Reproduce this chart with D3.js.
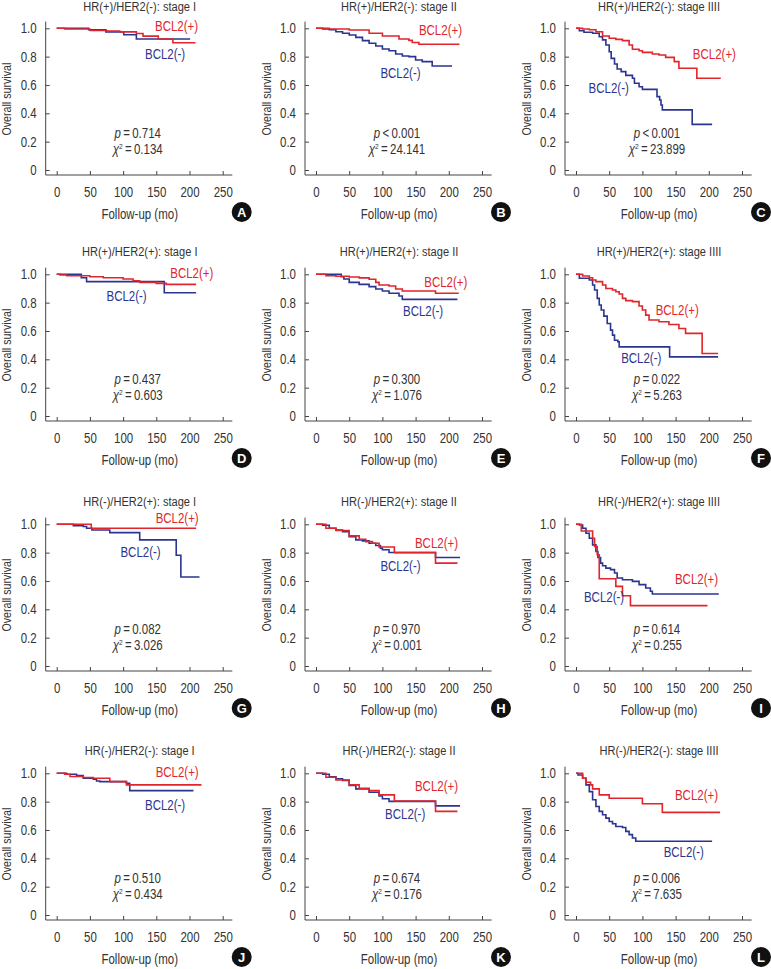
<!DOCTYPE html>
<html>
<head>
<meta charset="utf-8">
<script src="https://cdn.jsdelivr.net/npm/d3@7"></script>
<style>
  body { margin: 0; background: #fff; }
  text { font-family: "Liberation Sans", Arial, sans-serif; fill: #333; }
</style>
</head>
<body>
<svg id="chart" width="771" height="969"></svg>
<script>
// panel letters and headings
const letters = ['A','B','C','D','E','F','G','H','I','J','K','L'];
const titles = [
  'HR(+)/HER2(-): stage I', 'HR(+)/HER2(-): stage II', 'HR(+)/HER2(-): stage IIII',
  'HR(+)/HER2(+): stage I', 'HR(+)/HER2(+): stage II', 'HR(+)/HER2(+): stage IIII',
  'HR(-)/HER2(+): stage I', 'HR(-)/HER2(+): stage II', 'HR(-)/HER2(+): stage IIII',
  'HR(-)/HER2(-): stage I', 'HR(-)/HER2(-): stage II', 'HR(-)/HER2(-): stage IIII'
];
const pSign = ['=','<','<','=','=','=','=','=','=','=','=','='];
const pVals = ['0.714','0.001','0.001','0.437','0.300','0.022','0.082','0.970','0.614','0.510','0.674','0.006'];
const chiVals = ['0.134','24.141','23.899','0.603','1.076','5.263','3.026','0.001','0.255','0.434','0.176','7.635'];

const xTicks = [0, 50, 100, 150, 200, 250];
const yTicks = [0, 0.2, 0.4, 0.6, 0.8, 1.0];
const yTickLabels = ['0', '0.2', '0.4', '0.6', '0.8', '1.0'];

// Kaplan-Meier steps [month, survival], BCL2(+)
const survPos = [
  [[0,1],[12,0.995],[50,0.985],[75,0.98],[95,0.975],[120,0.963],[130,0.945],[153,0.925],[175,0.898],[209,0.898]],
  [[0,1],[20,0.995],[50,0.988],[80,0.965],[100,0.946],[125,0.925],[140,0.915],[145,0.9],[155,0.887],[216,0.887]],
  [[0,1],[10,0.995],[20,0.99],[30,0.976],[40,0.946],[50,0.93],[60,0.922],[70,0.913],[80,0.882],[85,0.852],[95,0.842],[100,0.83],[115,0.819],[125,0.812],[135,0.795],[148,0.765],[155,0.718],[182,0.647],[218,0.647]],
  [[0,1],[5,0.995],[15,0.99],[50,0.983],[70,0.976],[100,0.967],[115,0.955],[125,0.943],[150,0.936],[165,0.929],[210,0.929]],
  [[0,1],[15,0.99],[30,0.986],[50,0.981],[65,0.975],[80,0.965],[90,0.943],[95,0.925],[110,0.917],[120,0.896],[130,0.882],[180,0.866],[215,0.866]],
  [[0,1],[10,0.988],[20,0.976],[25,0.96],[30,0.948],[40,0.925],[45,0.9],[55,0.889],[60,0.877],[65,0.861],[70,0.83],[75,0.814],[85,0.807],[95,0.776],[100,0.748],[105,0.712],[110,0.677],[125,0.665],[140,0.646],[155,0.618],[165,0.583],[190,0.441],[214,0.441]],
  [[0,1],[52,0.972],[210,0.972]],
  [[0,1],[15,0.972],[30,0.956],[50,0.918],[65,0.895],[75,0.878],[85,0.866],[95,0.84],[118,0.8],[180,0.726],[213,0.726]],
  [[0,1],[8,0.953],[25,0.902],[28,0.843],[32,0.785],[35,0.616],[60,0.562],[70,0.496],[82,0.426],[198,0.426]],
  [[0,1],[12,0.993],[20,0.977],[40,0.97],[55,0.965],[80,0.941],[105,0.918],[218,0.918]],
  [[0,1],[15,0.972],[30,0.953],[50,0.918],[65,0.895],[80,0.878],[95,0.848],[118,0.805],[180,0.731],[213,0.731]],
  [[0,1],[10,0.965],[15,0.937],[22,0.918],[25,0.89],[35,0.848],[50,0.824],[100,0.785],[130,0.724],[217,0.724]]
];

// Kaplan-Meier steps [month, survival], BCL2(-)
const survNeg = [
  [[0,1],[48,0.99],[74,0.975],[101,0.955],[120,0.925],[201,0.925]],
  [[0,1],[10,0.995],[20,0.99],[30,0.976],[40,0.965],[50,0.953],[60,0.936],[70,0.913],[80,0.894],[90,0.875],[100,0.854],[110,0.842],[120,0.819],[130,0.805],[140,0.8],[150,0.776],[160,0.765],[175,0.734],[205,0.734]],
  [[0,1],[5,0.983],[12,0.972],[25,0.965],[35,0.94],[40,0.918],[45,0.882],[50,0.835],[53,0.788],[58,0.748],[62,0.713],[68,0.694],[75,0.668],[85,0.647],[88,0.612],[95,0.588],[100,0.569],[122,0.518],[126,0.494],[128,0.459],[130,0.424],[175,0.322],[205,0.322]],
  [[0,1],[37,0.976],[45,0.948],[162,0.87],[210,0.87]],
  [[0,1],[38,0.983],[42,0.967],[50,0.943],[65,0.929],[80,0.913],[90,0.896],[100,0.882],[110,0.866],[125,0.847],[130,0.823],[213,0.823]],
  [[0,1],[5,0.972],[20,0.96],[25,0.925],[28,0.889],[32,0.83],[35,0.783],[38,0.748],[42,0.705],[47,0.653],[52,0.606],[55,0.571],[58,0.535],[63,0.524],[65,0.488],[141,0.417],[214,0.417]],
  [[0,1],[25,0.99],[40,0.984],[45,0.972],[53,0.96],[80,0.941],[125,0.89],[180,0.782],[187,0.628],[215,0.628]],
  [[0,1],[10,0.993],[20,0.972],[30,0.96],[40,0.948],[50,0.913],[60,0.89],[70,0.883],[80,0.866],[90,0.85],[97,0.831],[100,0.82],[110,0.801],[180,0.766],[217,0.766]],
  [[0,1],[5,0.995],[10,0.972],[15,0.937],[20,0.902],[25,0.855],[30,0.808],[33,0.766],[37,0.726],[40,0.707],[45,0.691],[52,0.68],[58,0.656],[62,0.621],[70,0.609],[85,0.597],[95,0.574],[105,0.55],[112,0.527],[115,0.508],[215,0.508]],
  [[0,1],[15,0.993],[30,0.984],[40,0.965],[55,0.958],[60,0.946],[65,0.941],[105,0.93],[110,0.878],[206,0.878]],
  [[0,1],[10,0.993],[20,0.975],[30,0.962],[40,0.95],[50,0.915],[60,0.89],[80,0.866],[95,0.84],[100,0.82],[110,0.802],[180,0.77],[217,0.77]],
  [[0,1],[3,0.988],[10,0.965],[15,0.918],[20,0.871],[25,0.813],[30,0.766],[35,0.731],[40,0.707],[45,0.684],[50,0.66],[55,0.644],[60,0.625],[70,0.618],[75,0.59],[80,0.567],[85,0.543],[90,0.52],[205,0.52]]
];

// label anchors in data units (start x, baseline y)
const labelPosAt = [[148,0.981],[155,0.953],[176,0.781],[171,0.976],[163,0.913],[120,0.712],[149,1.012],[149,0.836],[149,0.578],[149,0.977],[149,0.876],[149,0.813]];
const labelNegAt = [[133,0.781],[97,0.652],[19,0.546],[75,0.811],[131,0.705],[68,0.375],[96,0.768],[97,0.672],[12,0.45],[133,0.742],[104,0.677],[132,0.412]];

const red = '#e1252b', blue = '#2b3590';
const colX0 = [56.7, 316, 576];
const rowY1 = [28.3, 274.3, 524.3, 773.3];
const plotW = 166, plotH = 141.7;
const squeeze = 0.82;   // the figure uses a condensed face

const svg = d3.select('#chart');

// condensed text placed at (x, y)
function label(g, x, y, size, anchor) {
  return g.append('text')
    .attr('transform', `translate(${x},${y}) scale(${squeeze},1)`)
    .attr('font-size', size)
    .attr('text-anchor', anchor || 'start');
}

letters.forEach((letter, i) => {
  const col = i % 3, row = Math.floor(i / 3);
  const x0 = colX0[col], y1 = rowY1[row], y0 = y1 + plotH;
  const x = d3.scaleLinear().domain([0, 250]).range([x0, x0 + plotW]);
  const y = d3.scaleLinear().domain([0, 1]).range([y0, y1]);
  const g = svg.append('g');

  const axisX = x0 - 11, axisY = y0 + 5;

  // axis lines
  g.append('path')
    .attr('d', `M${axisX},${y(1.047)}V${axisY}H${x(264.5)}`)
    .attr('fill', 'none').attr('stroke', '#444').attr('stroke-width', 1);

  const yAxis = d3.axisLeft(y).tickValues(yTicks)
    .tickFormat((d, k) => yTickLabels[k])
    .tickSizeInner(-4).tickSizeOuter(0).tickPadding(11);
  const ya = g.append('g').attr('transform', `translate(${axisX},0)`).call(yAxis);
  ya.select('.domain').remove();

  const xAxis = d3.axisBottom(x).tickValues(xTicks)
    .tickSizeInner(-4).tickSizeOuter(0).tickPadding(11.8);
  const xa = g.append('g').attr('transform', `translate(0,${axisY})`).call(xAxis);
  xa.select('.domain').remove();

  g.selectAll('.tick line').attr('stroke', '#444');
  g.selectAll('.tick text').attr('font-size', 14).attr('fill', '#333')
    .attr('transform', `scale(${squeeze},1)`)
    .style('font-family', '"Liberation Sans", Arial, sans-serif');

  // titles
  label(g, x0 + 83, row === 0 ? 11 : y1 - 18, 13.5, 'middle').text(titles[i]);

  g.append('text')
    .attr('transform', `translate(${axisX - 34.5},${(y0 + y1) / 2}) rotate(-90) scale(${squeeze},1)`)
    .attr('text-anchor', 'middle').attr('font-size', 13)
    .text('Overall survival');

  label(g, x(125), y0 + 48.5, 14, 'middle').text('Follow-up (mo)');

  // curves
  const line = d3.line().x(d => x(d[0])).y(d => y(d[1])).curve(d3.curveStepAfter);
  g.append('path').datum(survNeg[i]).attr('d', line)
    .attr('fill', 'none').attr('stroke', blue).attr('stroke-width', 1.6);
  g.append('path').datum(survPos[i]).attr('d', line)
    .attr('fill', 'none').attr('stroke', red).attr('stroke-width', 1.6);

  // series labels
  label(g, x(labelPosAt[i][0]), y(labelPosAt[i][1]), 14).style('fill', red).text('BCL2(+)');
  label(g, x(labelNegAt[i][0]), y(labelNegAt[i][1]), 14).style('fill', blue).text('BCL2(-)');

  // statistics
  const pt = label(g, x(122), y(0.225), 14, 'middle');
  pt.append('tspan').attr('font-style', 'italic').text('p');
  pt.append('tspan').text('\u2009' + pSign[i] + '\u2009' + pVals[i]);

  const ct = label(g, x(122), y(0.115), 14, 'middle');
  ct.append('tspan').attr('font-style', 'italic').text('\u03c7');
  ct.append('tspan').attr('font-size', 8).attr('dy', -5).text('2');
  ct.append('tspan').attr('dy', 5).text('\u2009=\u2009' + chiVals[i]);

  // panel badge
  g.append('circle').attr('cx', x0 + 185).attr('cy', y0 + 42).attr('r', 10).attr('fill', '#111');
  g.append('text').attr('x', x0 + 185).attr('y', y0 + 42).attr('dy', '0.36em')
    .attr('text-anchor', 'middle').attr('font-size', 13).attr('font-weight', 'bold')
    .style('fill', '#fff')
    .text(letter);
});
</script>
</body>
</html>
